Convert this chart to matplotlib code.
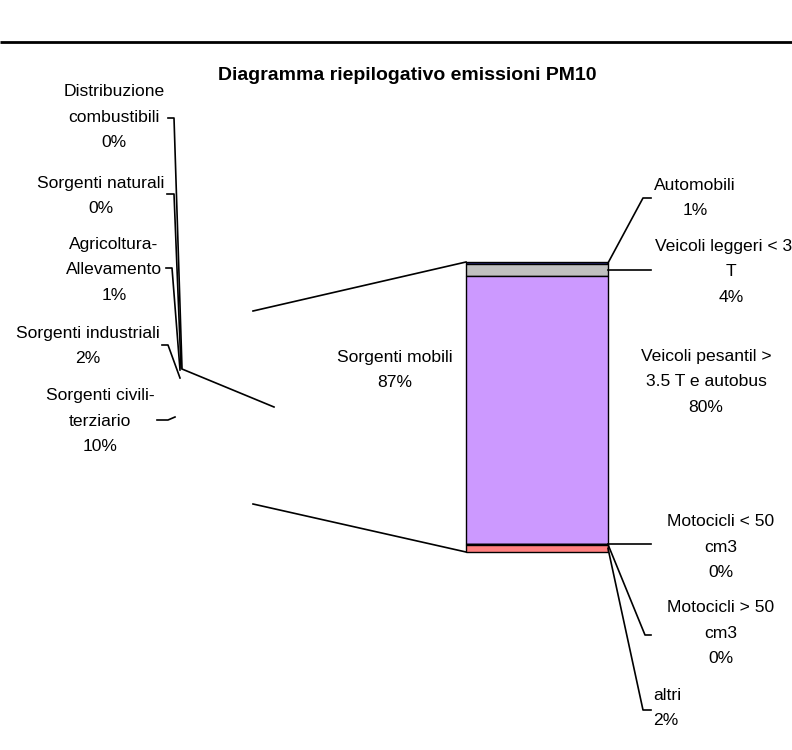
import matplotlib
matplotlib.use("Agg")
import matplotlib.pyplot as plt
import numpy as np

plt.rcParams['font.family'] = ['Liberation Sans', 'DejaVu Sans']

# pie: share of total PM10 emissions (%)
pie_labels = ["Sorgenti mobili", "Sorgenti civili-\nterziario", "Sorgenti industriali",
              "Agricoltura-\nAllevamento", "Sorgenti naturali", "Distribuzione\ncombustibili"]
pie_values = [87.0, 9.8, 1.9, 0.9, 0.2, 0.2]

# bar: breakdown of "Sorgenti mobili" (% of total)
bar_labels = ["Automobili", "Veicoli leggeri < 3.5\nT", "Veicoli pesantil >\n3.5 T e autobus",
              "Motocicli < 50\ncm3", "Motocicli > 50\ncm3", "altri"]
bar_values = [0.6, 3.6, 80.4, 0.1, 0.1, 2.2]
bar_colors = ["#333399", "#C0C0C0", "#CC99FF", "#FFFFCC", "#CCFFFF", "#FF8080"]

W, H = 792, 750
fig = plt.figure(figsize=(W / 100, H / 100), dpi=100)

# invisible pie (white on white, as in the original)
pax = fig.add_axes([90 / W, 1 - 500 / H, 190 / W, 190 / H])
pax.pie(pie_values, colors=["white"] * len(pie_values), startangle=0,
        wedgeprops=dict(linewidth=0))
pax.set_aspect('equal')

# bar of the expanded slice
bx0, bx1, by0, by1 = 466, 608, 262, 552
bax = fig.add_axes([bx0 / W, 1 - by1 / H, (bx1 - bx0) / W, (by1 - by0) / H])
total = sum(bar_values)
cum = np.concatenate([[0], np.cumsum(bar_values)[:-1]])
bax.bar(0, bar_values, bottom=cum, width=1, color=bar_colors,
        edgecolor="black", linewidth=1, clip_on=False)
bax.set_xlim(-0.5, 0.5)
bax.set_ylim(total, 0)
bax.axis('off')

# overlay in pixel coordinates for texts and lines
ax = fig.add_axes([0, 0, 1, 1])
ax.set_xlim(0, W)
ax.set_ylim(H, 0)
ax.axis('off')

ax.plot([0, W], [42, 42], color="black", lw=2, solid_capstyle='butt')
ax.text(407, 75, "Diagramma riepilogativo emissioni PM10", ha='center', va='center',
        fontsize=14, fontweight='bold')

fs = 12.6
ls = 1.85

# pie labels
pie_pos = [(395, 370), (100, 421), (88, 346), (114, 270), (101, 196), (114, 117)]
for lab, v, (x, y) in zip(pie_labels, pie_values, pie_pos):
    ax.text(x, y, f"{lab}\n{v:.0f}%", ha='center', va='center', fontsize=fs,
            linespacing=ls, multialignment='center')

# pie leader lines
leaders_left = [
    [(157, 420), (168, 420), (175, 417)],
    [(162, 345), (168, 345), (180, 378)],
    [(166, 268), (172, 268), (180, 370)],
    [(167, 194), (174, 194), (181, 368)],
    [(168, 118), (174, 118), (182, 368)],
    [(182, 369), (274, 407)],
]
for pts in leaders_left:
    xs, ys = zip(*pts)
    ax.plot(xs, ys, color="black", lw=1.2)

# connectors between pie and bar
ax.plot([253, bx0], [311, by0], color="black", lw=1.2)
ax.plot([253, bx0], [504, by1], color="black", lw=1.2)

# bar labels
bar_pos = [(695, 198), (731, 272), (706, 382), (721, 547), (721, 633), (653, 708)]
bar_ha = ['center'] * 5 + ['left']
for lab, v, (x, y), ha in zip(bar_labels, bar_values, bar_pos, bar_ha):
    ax.text(x, y, f"{lab}\n{v:.0f}%", ha=ha, va='center', fontsize=fs,
            linespacing=ls, multialignment=ha)

# bar leader lines (start at segment middle on right edge)
mid_px = by0 + (cum + np.array(bar_values) / 2) / total * (by1 - by0)
ends = {0: [(643, 198), (651, 198)], 1: [(651, None)], 3: [(651, None)],
        4: [(645, 635), (651, 635)], 5: [(643, 710), (651, 710)]}
for i, pts in ends.items():
    xs = [bx1] + [p[0] for p in pts]
    ys = [mid_px[i]] + [mid_px[i] if p[1] is None else p[1] for p in pts]
    ax.plot(xs, ys, color="black", lw=1.2)

fig.savefig("out.png", dpi=100)
